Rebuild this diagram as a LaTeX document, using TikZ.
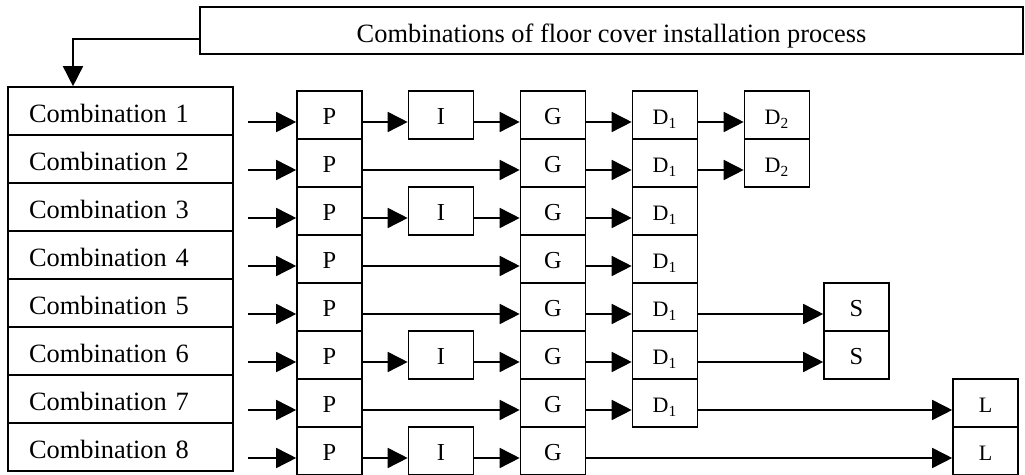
\documentclass[tikz,border=0pt]{standalone}
\usepackage{fontspec}
\setmainfont{Liberation Serif}
\usetikzlibrary{arrows.meta}
\begin{document}
\begin{tikzpicture}[x=0.5pt,y=-0.5pt,
  line width=0.8pt,
  pbox/.style={draw, rectangle, minimum width=32.5pt, minimum height=24pt, inner sep=0pt,
    text height=10pt, text depth=0pt, font=\fontsize{12.2}{14}\selectfont},
  sbox/.style={pbox, font=\fontsize{11}{13}\selectfont},
  cbox/.style={draw, rectangle, minimum height=24pt, text width=91.5pt, inner xsep=10.5pt,
    inner ysep=0pt, align=left, text height=12pt, text depth=0pt, font=\fontsize{13.2}{15}\selectfont},
  tbox/.style={draw, rectangle, minimum width=411.5pt, minimum height=23.5pt, inner sep=0pt,
    text height=12.5pt, text depth=0pt, font=\fontsize{13.2}{15}\selectfont},
  arr/.style={-{Triangle[length=10pt,width=10pt]}},
]
\useasboundingbox (0,0) rectangle (1025,475);

\node[tbox] (T) at (611.5,30.5) {Combinations of floor cover installation process};

\foreach \k [evaluate=\k as \yc using 115+48*(\k-1), evaluate=\k as \yb using 111+48*(\k-1)] in {1,...,8}{
  \node[cbox] (C\k) at (120.5,\yb) {Combination \k};
  \node[pbox] (P\k) at (329.5,\yc) {P};
  \node[pbox] (G\k) at (553,\yc) {G};
  \coordinate (e\k) at (248,\yc+7);
}
\foreach \k [evaluate=\k as \yc using 115+48*(\k-1)] in {1,...,7}{
  \node[sbox] (Da\k) at (665,\yc) {D\textsubscript{1}};
}
\foreach \k [evaluate=\k as \yc using 115+48*(\k-1)] in {1,3,6,8}{
  \node[pbox] (I\k) at (441,\yc) {I};
}
\foreach \k [evaluate=\k as \yc using 115+48*(\k-1)] in {1,2}{
  \node[sbox] (Db\k) at (777,\yc) {D\textsubscript{2}};
}
\foreach \k [evaluate=\k as \yc using 115+48*(\k-1)] in {5,6}{
  \node[pbox] (S\k) at (856.5,\yc) {S};
}
\foreach \k [evaluate=\k as \yc using 115+48*(\k-1)] in {7,8}{
  \node[sbox] (L\k) at (985.5,\yc) {L};
}

\draw[arr] ([yshift=-4.25pt]T.west) -| ([xshift=-23.75pt]C1.north);

\foreach \k in {1,...,8}{
  \draw[arr] (e\k) -- ([yshift=-3.5pt]P\k.west);
}
\foreach \a/\b in {P1/I1, I1/G1, G1/Da1, Da1/Db1,
                   P2/G2, G2/Da2, Da2/Db2,
                   P3/I3, I3/G3, G3/Da3,
                   P4/G4, G4/Da4,
                   P5/G5, G5/Da5, Da5/S5,
                   P6/I6, I6/G6, G6/Da6, Da6/S6,
                   P7/G7, G7/Da7, Da7/L7,
                   P8/I8, I8/G8, G8/L8}{
  \draw[arr] ([yshift=-3.5pt]\a.east) -- ([yshift=-3.5pt]\b.west);
}
\end{tikzpicture}
\end{document}
